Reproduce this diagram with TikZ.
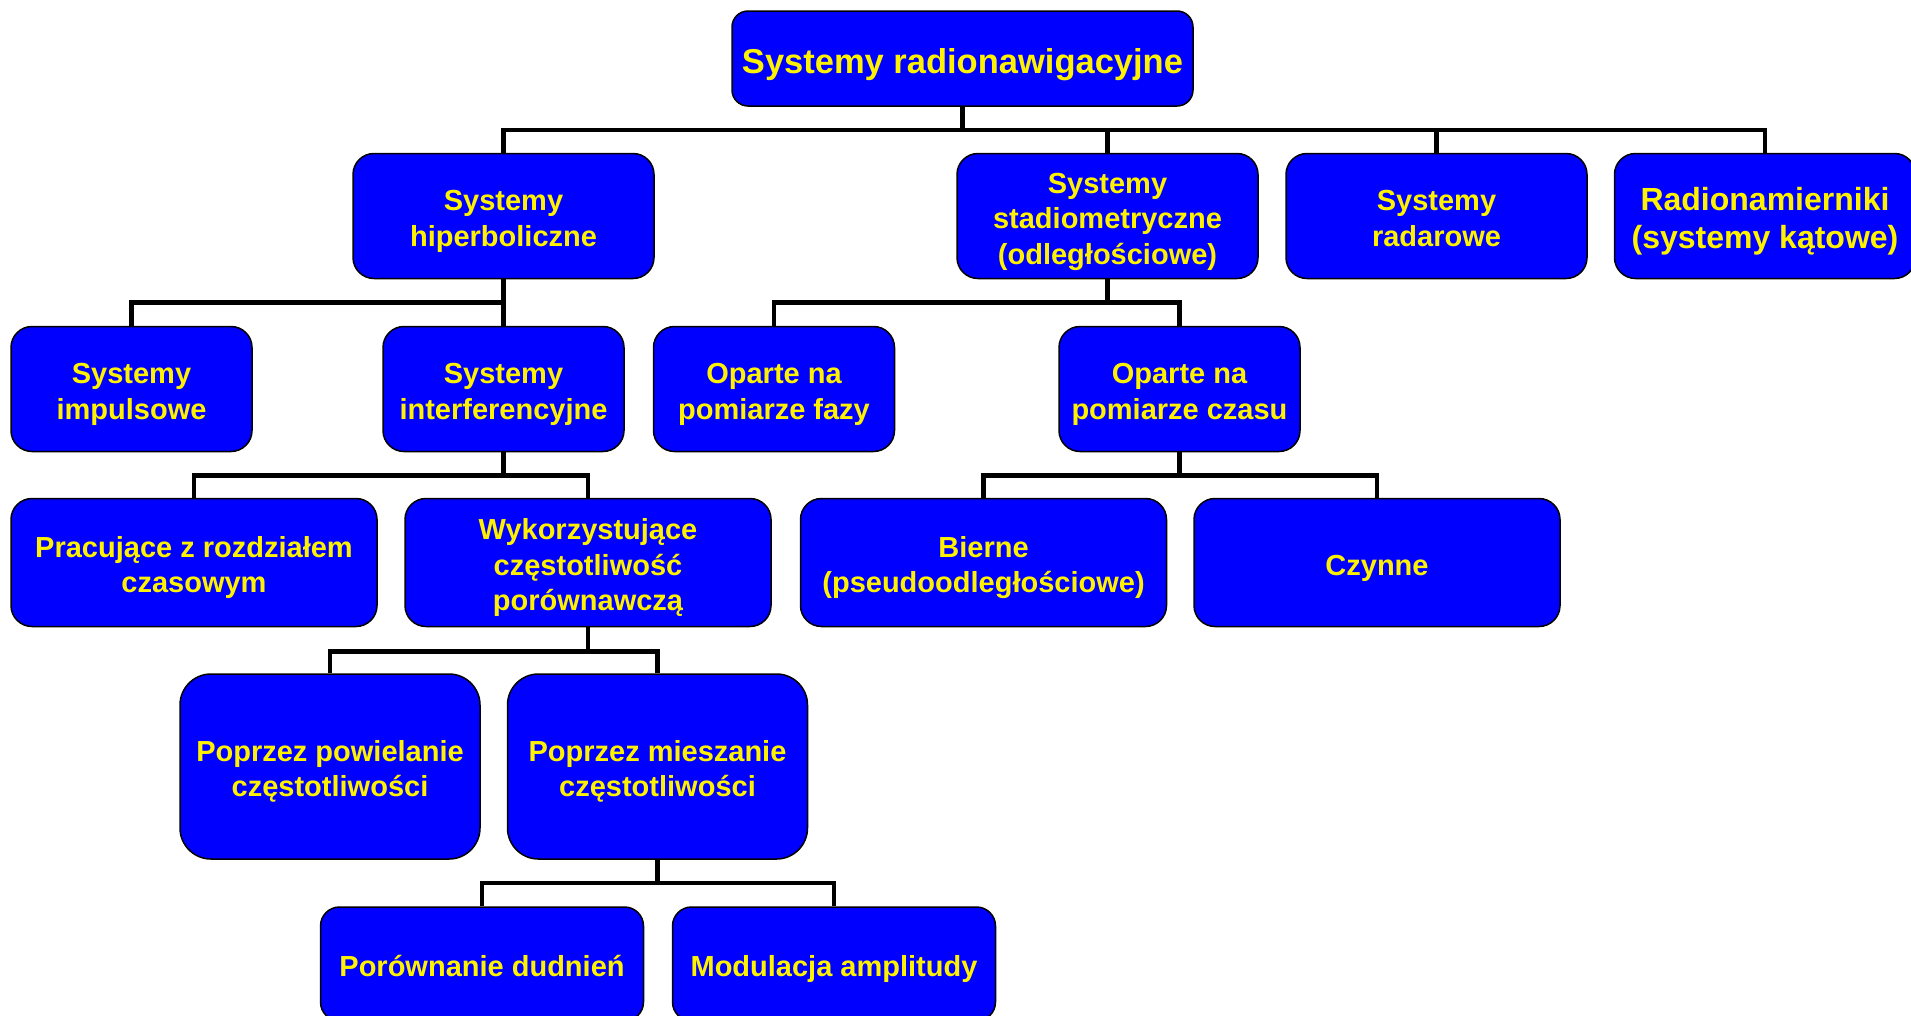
\documentclass[tikz,border=0pt]{standalone}
\usepackage{fontspec}
\setmainfont{Liberation Sans}
\usepackage{tikz}

\begin{document}
\begin{tikzpicture}[x=1pt, y=-1pt,
  box/.style={draw, line width=1.5pt, rounded corners=21pt, fill=blue, text=yellow, align=center, inner sep=0pt,
    font=\bfseries\fontsize{29}{35.5}\selectfont,
    execute at begin node={\rule{0pt}{\dimexpr1.08em+#1\baselineskip\relax}},
    execute at end node={\rule[-0.21em]{0pt}{0pt}}},
  box/.default=0,
  conn/.style={line width=4.5pt}]
\useasboundingbox (0,0) rectangle (1911,1015);

% Root
\node[box, minimum width=461pt, minimum height=95pt, rounded corners=16pt, font=\bfseries\fontsize{34.5}{40}\selectfont] (root) at (962.5,58.5) {Systemy radionawigacyjne};

% Level 1
\node[box=1, minimum width=301pt, minimum height=125pt] (hip) at (503.5,216) {Systemy\\hiperboliczne};
\node[box=2, minimum width=301pt, minimum height=125pt] (stad) at (1107.5,216) {Systemy\\stadiometryczne\\(odległościowe)};
\node[box=1, minimum width=301pt, minimum height=125pt] (radar) at (1436.5,216) {Systemy\\radarowe};
\node[box=1, minimum width=301pt, minimum height=125pt, font=\bfseries\fontsize{32}{38}\selectfont] (radio) at (1765,216) {Radionamierniki\\(systemy kątowe)};

% Level 2
\node[box=1, minimum width=241pt, minimum height=125pt] (imp) at (131.5,389) {Systemy\\impulsowe};
\node[box=1, minimum width=241pt, minimum height=125pt] (int) at (503.5,389) {Systemy\\interferencyjne};
\node[box=1, minimum width=241pt, minimum height=125pt] (faz) at (774,389) {Oparte na\\pomiarze fazy};
\node[box=1, minimum width=241pt, minimum height=125pt] (czas) at (1179.5,389) {Oparte na\\pomiarze czasu};

% Level 3
\node[box=1, minimum width=366pt, minimum height=128pt] (prac) at (194,562.5) {Pracujące z rozdziałem\\czasowym};
\node[box=2, minimum width=366pt, minimum height=128pt] (wyk) at (588,562.5) {Wykorzystujące\\częstotliwość\\porównawczą};
\node[box=1, minimum width=366pt, minimum height=128pt] (bier) at (983.5,562.5) {Bierne\\(pseudoodległościowe)};
\node[box, minimum width=366pt, minimum height=128pt] (czyn) at (1377,562.5) {Czynne};

% Level 4
\node[box=1, minimum width=300pt, minimum height=185pt, rounded corners=31pt] (pow) at (330,766.5) {Poprzez powielanie\\częstotliwości};
\node[box=1, minimum width=300pt, minimum height=185pt, rounded corners=31pt] (mie) at (657.5,766.5) {Poprzez mieszanie\\częstotliwości};

% Level 5
\node[box, minimum width=323pt, minimum height=114pt, rounded corners=19pt] (por) at (482,964) {Porównanie dudnień};
\node[box, minimum width=323pt, minimum height=114pt, rounded corners=19pt] (mod) at (834,964) {Modulacja amplitudy};

% Connectors
\foreach \kid in {hip,stad,radar,radio}
  \draw[conn] (root.south) -- ++(0,23) -| (\kid.north);
\foreach \kid in {imp,int}
  \draw[conn] (hip.south) -- ++(0,23) -| (\kid.north);
\foreach \kid in {faz,czas}
  \draw[conn] (stad.south) -- ++(0,23) -| (\kid.north);
\foreach \kid in {prac,wyk}
  \draw[conn] (int.south) -- ++(0,23) -| (\kid.north);
\foreach \kid in {bier,czyn}
  \draw[conn] (czas.south) -- ++(0,23) -| (\kid.north);
\foreach \kid in {pow,mie}
  \draw[conn] (wyk.south) -- ++(0,24) -| (\kid.north);
\foreach \kid in {por,mod}
  \draw[conn] (mie.south) -- ++(0,23) -| (\kid.north);
\end{tikzpicture}
\end{document}
